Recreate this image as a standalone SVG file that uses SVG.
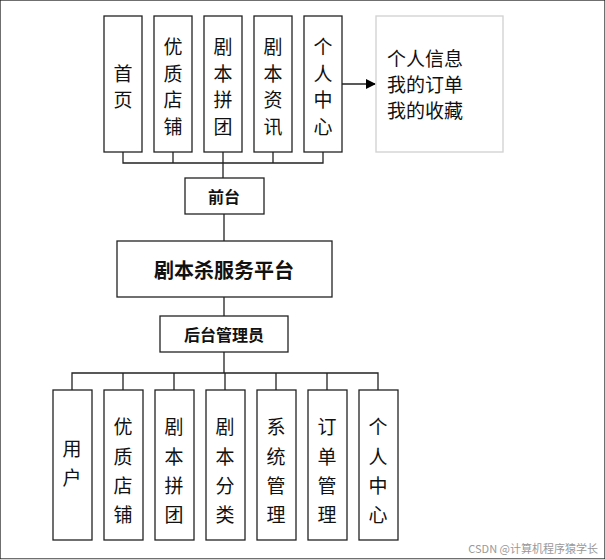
<svg xmlns="http://www.w3.org/2000/svg" width="605" height="559" viewBox="0 0 605 559">
<defs><marker id="ar" markerWidth="10" markerHeight="10" refX="9" refY="5" orient="auto" markerUnits="userSpaceOnUse"><path d="M0,0L10,5L0,10z" fill="#000"/></marker></defs>
<style>
rect{fill:#fff;stroke:#222;stroke-width:1.3}
text{font-family:"Noto Sans CJK SC",sans-serif;font-size:19px;fill:#111;text-anchor:middle;dominant-baseline:central}
.b{font-weight:bold;font-size:16px}
.c line,.c path{stroke:#222;stroke-width:1.3;fill:none}
</style>
<rect width="605" height="559" fill="#fff" stroke="none"/>
<g class="c">
<path d="M123,152V163H323V152M173,152V163M223,152V178M273,152V163"/>
<path d="M224,214V241M224,297V316M224,352V373"/>
<path d="M72,390V373H378V390M123,373V390M174,373V390M225,373V390M276,373V390M327,373V390"/>
<line x1="342" y1="84" x2="375" y2="84" stroke-width="2.5" marker-end="url(#ar)"/>
</g>
<g id="t1"><rect x="104" y="16" width="38" height="136"/><text x="123" y="72">首</text><text x="123" y="98">页</text></g>
<g id="t2"><rect x="154" y="16" width="38" height="136"/><text x="173" y="45">优</text><text x="173" y="72">质</text><text x="173" y="98">店</text><text x="173" y="125">铺</text></g>
<g id="t3"><rect x="204" y="16" width="38" height="136"/><text x="223" y="45">剧</text><text x="223" y="72">本</text><text x="223" y="98">拼</text><text x="223" y="125">团</text></g>
<g id="t4"><rect x="254" y="16" width="38" height="136"/><text x="273" y="45">剧</text><text x="273" y="72">本</text><text x="273" y="98">资</text><text x="273" y="125">讯</text></g>
<g id="t5"><rect x="304" y="16" width="38" height="136"/><text x="323" y="45">个</text><text x="323" y="72">人</text><text x="323" y="98">中</text><text x="323" y="125">心</text></g>
<g id="info"><rect x="376" y="16" width="127" height="136" fill="#fbfbfb" style="stroke:#d0d0d0"/><text x="387" y="57" style="text-anchor:start">个人信息</text><text x="387" y="83" style="text-anchor:start">我的订单</text><text x="387" y="109" style="text-anchor:start">我的收藏</text></g>
<g id="front"><rect x="185" y="178" width="79" height="36"/><text class="b" x="224" y="196">前台</text></g>
<g id="platform"><rect x="117" y="241" width="215" height="56"/><text x="224" y="269" style="font-weight:bold;font-size:20px">剧本杀服务平台</text></g>
<g id="admin"><rect x="160" y="316" width="128" height="36"/><text class="b" x="224" y="334">后台管理员</text></g>
<g id="b1"><rect x="53" y="390" width="39" height="150"/><text x="72" y="447">用</text><text x="72" y="476">户</text></g>
<g id="b2"><rect x="104" y="390" width="39" height="150"/><text x="123" y="425">优</text><text x="123" y="455">质</text><text x="123" y="484">店</text><text x="123" y="513">铺</text></g>
<g id="b3"><rect x="155" y="390" width="39" height="150"/><text x="174" y="425">剧</text><text x="174" y="455">本</text><text x="174" y="484">拼</text><text x="174" y="513">团</text></g>
<g id="b4"><rect x="206" y="390" width="39" height="150"/><text x="225" y="425">剧</text><text x="225" y="455">本</text><text x="225" y="484">分</text><text x="225" y="513">类</text></g>
<g id="b5"><rect x="257" y="390" width="39" height="150"/><text x="276" y="425">系</text><text x="276" y="455">统</text><text x="276" y="484">管</text><text x="276" y="513">理</text></g>
<g id="b6"><rect x="308" y="390" width="39" height="150"/><text x="327" y="425">订</text><text x="327" y="455">单</text><text x="327" y="484">管</text><text x="327" y="513">理</text></g>
<g id="b7"><rect x="359" y="390" width="39" height="150"/><text x="378" y="425">个</text><text x="378" y="455">人</text><text x="378" y="484">中</text><text x="378" y="513">心</text></g>
<text x="598" y="548" style="font-size:11px;fill:#999;text-anchor:end">CSDN @计算机程序猿学长</text>
</svg>
